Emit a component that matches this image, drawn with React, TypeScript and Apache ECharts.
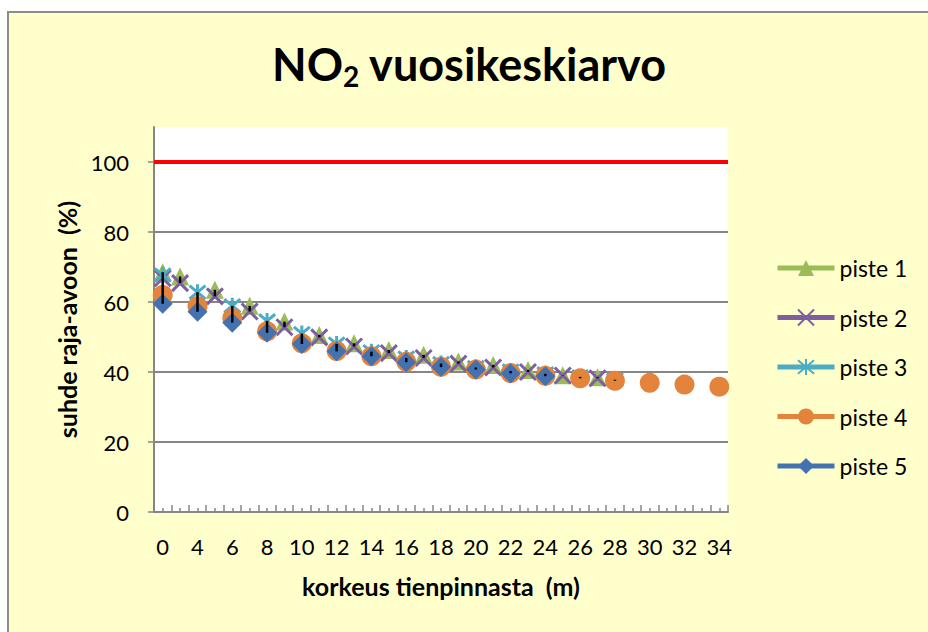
import React, { useEffect, useRef } from 'react';
import * as echarts from 'echarts';

// Category axis of the original chart (heights above road, m)
const CATEGORIES: number[] = [
  0, 1, 2, 3, 4, 4.5, 5, 5.5, 6, 6.5, 7, 7.5, 8, 8.5, 9, 9.5, 10, 10.5, 11, 11.5,
  12, 12.5, 13, 13.5, 14, 14.5, 15, 15.5, 16, 16.5, 17, 17.5, 18, 18.5, 19, 19.5,
  20, 20.5, 21, 21.5, 22, 22.5, 23, 23.5, 24, 24.5, 25, 25.5, 26, 26.5, 27, 27.5,
  28, 28.5, 29, 29.5, 30, 30.5, 31, 31.5, 32, 32.5, 33, 33.5, 34, 34.5,
];
const X_TICK_LABELS = ['0', '4', '6', '8', '10', '12', '14', '16', '18', '20', '22', '24', '26', '28', '30', '32', '34'];
const Y_TICKS = [0, 20, 40, 60, 80, 100];
const LIMIT_VALUE = 100;

const ODD_HEIGHTS = [0, 2, 5, 7, 9, 11, 13, 15, 17, 19, 21, 23, 25, 27];
const P1_VALUES = [68.5, 67.3, 63.5, 58.9, 54.4, 50.6, 48.2, 46.3, 44.9, 43.0, 42.0, 40.6, 39.1, 38.5];
const P2_VALUES = [66.8, 65.4, 61.6, 57.3, 52.8, 49.9, 47.3, 45.4, 44.0, 42.4, 41.3, 40.0, 39.0, 38.2];

const P3_HEIGHTS = [0, 4, 6, 8, 10, 12, 14, 16, 18, 20, 22, 24, 26, 28];
const P3_VALUES = [67.7, 62.8, 58.9, 54.6, 51.0, 48.0, 45.8, 44.0, 42.4, 41.3, 40.3, 39.5, 38.6, 37.8];

const P4_HEIGHTS = [0, 4, 6, 8, 10, 12, 14, 16, 18, 20, 22, 24, 26, 28, 30, 32, 34];
const P4_VALUES = [62.0, 58.8, 55.4, 51.6, 48.2, 46.0, 44.5, 42.9, 41.5, 40.7, 39.7, 38.9, 38.2, 37.5, 36.9, 36.4, 35.8];

const P5_HEIGHTS = [0, 4, 6, 8, 10, 12, 14, 16, 18, 20, 22, 24];
const P5_VALUES = [59.5, 57.2, 54.1, 51.2, 48.0, 45.9, 44.5, 42.8, 41.4, 40.7, 39.6, 38.8];

const SERIES_NAMES = ['piste 1', 'piste 2', 'piste 3', 'piste 4', 'piste 5'];

const FONT = 'Lato, "Open Sans", sans-serif';
const GRID_GREY = '#868686';

const X_PATH = 'path://M0,0 L10,10 M10,0 L0,10';
const STAR_PATH = 'path://M0,0 L10,10 M10,0 L0,10 M5,-1 L5,11';

function catIndex(h: number): number {
  return CATEGORIES.indexOf(h);
}

function fullData(heights: number[], values: number[]) {
  const map = new Map<number, number>();
  heights.forEach((h, k) => map.set(catIndex(h), values[k]));
  return CATEGORIES.map((_, i) => [i, map.has(i) ? map.get(i) : '-']);
}

export default function App() {
  const ref = useRef<HTMLDivElement>(null);

  useEffect(() => {
    if (!ref.current) return;
    const chart = echarts.init(ref.current, undefined, { renderer: 'svg' });

    const seriesInput = [
      { name: SERIES_NAMES[0], heights: ODD_HEIGHTS, values: P1_VALUES, color: '#9BBB59', symbol: 'triangle', size: 18, border: 0 },
      { name: SERIES_NAMES[1], heights: ODD_HEIGHTS, values: P2_VALUES, color: '#7D5FA0', symbol: X_PATH, size: 16, border: 3 },
      { name: SERIES_NAMES[2], heights: P3_HEIGHTS, values: P3_VALUES, color: '#4BACC6', symbol: STAR_PATH, size: 16, border: 3 },
      { name: SERIES_NAMES[3], heights: P4_HEIGHTS, values: P4_VALUES, color: '#E4833C', symbol: 'circle', size: 20, border: 0 },
      { name: SERIES_NAMES[4], heights: P5_HEIGHTS, values: P5_VALUES, color: '#4472B0', symbol: 'diamond', size: 20, border: 0 },
    ];

    // High-low lines: span between highest and lowest series value at each category
    const highLow: number[][] = [];
    CATEGORIES.forEach((_, i) => {
      const vals: number[] = [];
      seriesInput.forEach((s) => {
        s.heights.forEach((h, k) => {
          if (catIndex(h) === i) vals.push(s.values[k]);
        });
      });
      if (vals.length >= 2) highLow.push([i, Math.min(...vals), Math.max(...vals)]);
    });

    const majorTicks: number[] = [];
    const minorTicks: number[] = [];
    for (let i = -1; i <= CATEGORIES.length - 1; i++) {
      if (Math.abs(i % 2) === 1) majorTicks.push(i);
      else minorTicks.push(i);
    }
    const labelValues = X_TICK_LABELS.map((l) => catIndex(Number(l)));

    const lineSeries = seriesInput.map((s, n) => ({
      type: 'line',
      name: s.name,
      data: fullData(s.heights, s.values),
      connectNulls: false,
      symbol: s.symbol,
      symbolSize: s.size,
      showAllSymbol: true,
      lineStyle: { color: s.color, width: 5 },
      itemStyle: {
        color: s.color,
        borderColor: s.color,
        borderWidth: s.border,
      },
      emphasis: { disabled: true },
      z: 2 + n,
      markLine:
        n === 0
          ? {
              silent: true,
              symbol: 'none',
              label: { show: false },
              lineStyle: { color: '#FF0000', width: 4, type: 'solid' },
              data: [{ yAxis: LIMIT_VALUE }],
            }
          : undefined,
    }));

    const option: any = {
      animation: false,
      backgroundColor: '#ffffff',
      graphic: [
        {
          type: 'rect',
          silent: true,
          z: -10,
          shape: { x: 8, y: 12, width: 960, height: 660 },
          style: { fill: '#FFFFCC', stroke: '#8C8C8C', lineWidth: 2 },
        },
      ],
      title: {
        text: '{a|NO}{s|2}{a| vuosikeskiarvo}',
        left: 272,
        top: 38,
        padding: 0,
        textStyle: {
          rich: {
            a: { fontFamily: FONT, fontWeight: 'bold', fontSize: 45, color: '#000', lineHeight: 52 },
            s: { fontFamily: FONT, fontWeight: 'bold', fontSize: 28, color: '#000', lineHeight: 52, padding: [24, 0, 0, 0] },
          },
        },
      },
      legend: {
        orient: 'vertical',
        left: 770,
        top: 251,
        itemWidth: 57,
        itemHeight: 20,
        itemGap: 25.5,
        data: SERIES_NAMES,
        lineStyle: { width: 5 },
        textStyle: { fontFamily: FONT, fontSize: 23, color: '#000', lineHeight: 24 },
      },
      grid: {
        left: 154,
        top: 127,
        width: 574,
        height: 385,
        show: true,
        backgroundColor: '#ffffff',
        borderWidth: 0,
      },
      xAxis: [
        {
          type: 'value',
          min: -1,
          max: CATEGORIES.length - 1,
          name: 'korkeus tienpinnasta  (m)',
          nameLocation: 'middle',
          nameGap: 61,
          nameTextStyle: { fontFamily: FONT, fontWeight: 'bold', fontSize: 25, color: '#000' },
          axisLine: { show: true, onZero: false, lineStyle: { color: GRID_GREY, width: 2 } },
          axisTick: { show: true, inside: true, length: 7, customValues: majorTicks, lineStyle: { color: GRID_GREY, width: 1.5 } },
          axisLabel: {
            customValues: labelValues,
            margin: 23,
            fontFamily: FONT,
            fontSize: 22,
            color: '#000',
            formatter: (v: number) => String(CATEGORIES[Math.round(v)]),
          },
          splitLine: { show: false },
        },
        {
          type: 'value',
          min: -1,
          max: CATEGORIES.length - 1,
          position: 'bottom',
          axisLine: { show: false, onZero: false },
          axisTick: { show: true, inside: true, length: 4, customValues: minorTicks, lineStyle: { color: GRID_GREY, width: 1.5 } },
          axisLabel: { show: false },
          splitLine: { show: false },
        },
      ],
      yAxis: {
        type: 'value',
        min: 0,
        max: 110,
        interval: 20,
        name: 'suhde raja-avoon  (%)',
        nameLocation: 'middle',
        nameRotate: 90,
        nameGap: 74,
        nameTextStyle: { fontFamily: FONT, fontWeight: 'bold', fontSize: 25, color: '#000' },
        axisLine: { show: true, onZero: false, lineStyle: { color: GRID_GREY, width: 2 } },
        axisTick: { show: true, inside: false, length: 6, customValues: Y_TICKS, lineStyle: { color: GRID_GREY, width: 1.5 } },
        axisLabel: {
          customValues: Y_TICKS,
          margin: 25,
          fontFamily: FONT,
          fontSize: 22,
          color: '#000',
        },
        splitLine: { show: true, showMaxLine: false, lineStyle: { color: GRID_GREY, width: 2 } },
      },
      series: [
        ...lineSeries,
        {
          type: 'custom',
          name: 'high-low',
          data: highLow,
          encode: { x: 0, y: [1, 2] },
          z: 10,
          silent: true,
          renderItem: (params: any, api: any) => {
            const top = api.coord([api.value(0), api.value(2)]);
            const bottom = api.coord([api.value(0), api.value(1)]);
            return {
              type: 'line',
              shape: { x1: top[0], y1: top[1], x2: bottom[0], y2: bottom[1] },
              style: { stroke: '#000000', lineWidth: 2.5 },
            };
          },
        },
      ],
    };

    chart.setOption(option);
    return () => chart.dispose();
  }, []);

  return <div ref={ref} style={{ position: 'absolute', left: 0, top: 0, width: 928, height: 632 }} />;
}
